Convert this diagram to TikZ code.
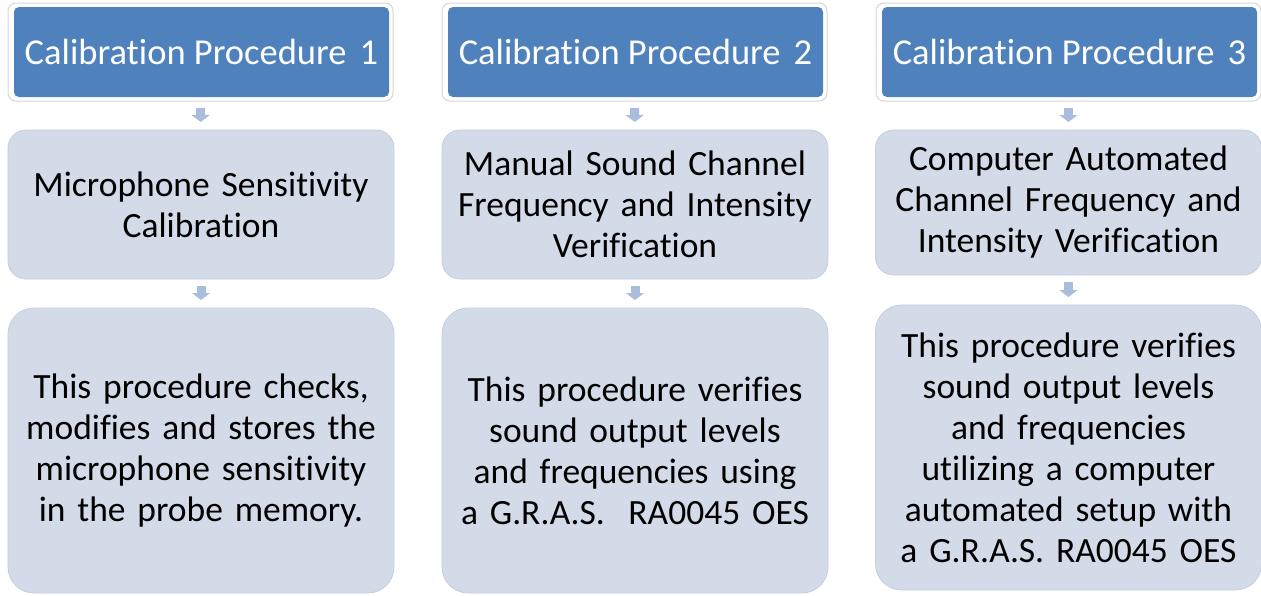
\documentclass[tikz,border=0pt]{standalone}
\usepackage{fontspec}
\setmainfont{Carlito}[Ligatures={NoCommon}]
\usetikzlibrary{arrows.meta}
\definecolor{titleblue}{HTML}{4F81BD}
\definecolor{boxgray}{HTML}{D3DBE9}
\definecolor{boxedge}{HTML}{C4CDE0}
\definecolor{arrowblue}{HTML}{AABDDC}
\definecolor{framegray}{HTML}{D6D6D6}
\newcommand{\tbreak}{\kern0pt}
\begin{document}
\begin{tikzpicture}[x=1pt,y=-1pt,
  frame/.style = {rectangle,rounded corners=8pt,draw=framegray,fill=white,line width=1pt,minimum width=385pt,minimum height=98pt,outer sep=0pt},
  title/.style = {rectangle,rounded corners=5pt,fill=titleblue,text=white,minimum width=375pt,minimum height=90pt,inner sep=0pt,font=\fontsize{36.5}{41}\selectfont},
  stage/.style = {rectangle,rounded corners=18pt,draw=boxedge,fill=boxgray,line width=0.8pt,minimum width=386pt,text width=380pt,align=center,inner sep=0pt,outer sep=0pt,font=\fontsize{35.5}{41}\selectfont},
  detail/.style = {stage,rounded corners=26pt,minimum height=285pt},
  flow/.style = {draw=arrowblue,line width=9pt,-{Triangle[width=18pt,length=7pt]},shorten <=7pt,shorten >=8pt}]
\useasboundingbox (0,0) rectangle (1261,595);
% headers
\foreach \i [count=\j] in {201,635,1069}{
  \node[frame] (f\j) at (\i-0.5, 52) {};
  \node[title] (t\j) at (\i+0.5, 52) {Calibrat\tbreak ion Procedure\hspace{0.36em}\j};
}
% middle boxes
\node[stage,minimum height=149pt] (m1) at (201, 204.5) {Microphone Sensit\tbreak ivity\\Calibrat\tbreak ion};
\node[stage,minimum height=149pt] (m2) at (635, 204.5) {Manual Sound Channel\\Frequency and Intensity\\Verificat\tbreak ion};
\node[stage,minimum height=145pt] (m3) at (1068.5, 202.5) {Computer Automated\\Channel Frequency and\\Intensity Verificat\tbreak ion};
% bottom boxes
\node[detail] (b1) at (201, 450.5) {This procedure checks,\\modifies and stores the\\microphone sensit\tbreak ivity\\in the probe memory.};
\node[detail] (b2) at (635, 450.5) {This procedure verifies\\sound output levels\\and frequencies using\\a G.R.A.S.~~RA0045 OES};
\node[detail] (b3) at (1068.5, 447.5) {This procedure verifies\\sound output levels\\and frequencies\\ut\tbreak ilizing a computer\\automated setup with\\a G.R.A.S. RA0045 OES};
% arrows
\foreach \j in {1,2,3}{
  \draw[flow] (f\j.south) -- (m\j.north);
  \draw[flow] (m\j.south) -- (b\j.north);
}
\end{tikzpicture}
\end{document}
